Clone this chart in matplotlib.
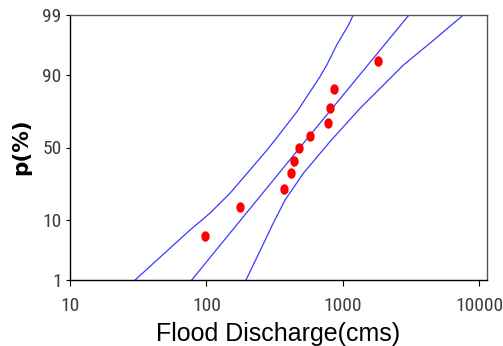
import numpy as np
import matplotlib
matplotlib.use("Agg")
import matplotlib.pyplot as plt
from matplotlib import font_manager
from matplotlib.path import Path
from matplotlib.ticker import FixedLocator, FixedFormatter, NullLocator
from statistics import NormalDist

# ---- data ----
obs_q = [98, 176, 369, 417, 436, 477, 572, 778, 805, 861, 1820]
obs_p = [6.1, 14.7, 23.3, 32.5, 40.8, 49.4, 58.0, 66.5, 75.7, 84.6, 93.5]

fit_q = [78, 485, 3055]
fit_p = [1, 50, 99]

low_q = [30, 76, 106, 149, 278, 318, 461, 680, 762, 902, 1097, 1193]
low_p = [1, 7.4, 12.4, 21.1, 48.2, 55.2, 73.5, 89.3, 92.6, 96.4, 98.4, 99]

up_q = [195, 256, 309, 377, 513, 805, 1337, 2778, 4610, 7640]
up_p = [1, 4.1, 9.2, 17.8, 32.5, 54.1, 75.4, 92.6, 97.0, 99]

x_ticks = [10, 100, 1000, 10000]
x_ticklabels = ["10", "100", "1000", "10000"]
y_ticks = [1, 10, 50, 90, 99]
y_ticklabels = ["1", "10", "50", "90", "99"]

_nd = NormalDist()
_vinv_cdf = np.vectorize(lambda v: _nd.inv_cdf(v / 100.0), otypes=[float])
_vcdf = np.vectorize(lambda v: _nd.cdf(v) * 100.0, otypes=[float])

def _fwd(p):
    p = np.clip(np.asarray(p, dtype=float), 1e-6, 100 - 1e-6)
    return _vinv_cdf(p)

def _inv(z):
    z = np.clip(np.asarray(z, dtype=float), -8, 8)
    return _vcdf(z)

# pick a narrow font for tick labels if one is installed
_names = {f.name for f in font_manager.fontManager.ttflist}
_narrow = None
for cand in ["Liberation Sans Narrow", "DejaVu Sans Condensed", "Roboto Condensed",
             "Open Sans Condensed"]:
    if cand in _names:
        _narrow = cand
        break
if _narrow is not None:
    tick_font, tick_size = [_narrow, "DejaVu Sans"], 14
else:
    tick_font, tick_size = ["Liberation Sans", "DejaVu Sans"], 12.5

fig = plt.figure(figsize=(5.03, 3.46), dpi=100)
ax = fig.add_axes([70 / 503, 1 - 280 / 346, (487 - 70) / 503, (280 - 15) / 346])

ax.set_xscale("log")
ax.set_yscale("function", functions=(_fwd, _inv))
ax.set_xlim(10, 11400)
ax.set_ylim(1, 99)

line_col = "#3a3aff"
ax.plot(low_q, low_p, color=line_col, lw=0.9)
ax.plot(fit_q, fit_p, color=line_col, lw=0.9)
ax.plot(up_q, up_p, color=line_col, lw=0.9)

# slightly elliptical dot marker
t = np.linspace(0, 2 * np.pi, 40)
ell = Path(np.column_stack([np.cos(t) * 0.8, np.sin(t)]))
ax.plot(obs_q, obs_p, linestyle="none", marker=ell, markersize=7.5,
        color="#ff0000", markeredgewidth=0)

ax.xaxis.set_major_locator(FixedLocator(x_ticks))
ax.xaxis.set_major_formatter(FixedFormatter(x_ticklabels))
ax.xaxis.set_minor_locator(NullLocator())
ax.yaxis.set_major_locator(FixedLocator(y_ticks))
ax.yaxis.set_major_formatter(FixedFormatter(y_ticklabels))
ax.yaxis.set_minor_locator(NullLocator())

for lab in ax.get_xticklabels() + ax.get_yticklabels():
    lab.set_family(tick_font)
    lab.set_fontsize(tick_size)
    lab.set_color("#3c3c3c")

ax.tick_params(axis="x", direction="out", length=4, width=0.8, pad=8)
ax.tick_params(axis="y", direction="out", length=3, width=0.8, pad=3)

for s in ["left", "bottom"]:
    ax.spines[s].set_color("black")
    ax.spines[s].set_linewidth(1.0)
for s in ["top", "right"]:
    ax.spines[s].set_color("#555555")
    ax.spines[s].set_linewidth(1.0)

ax.set_xlabel("Flood Discharge(cms)", family=["Liberation Sans", "DejaVu Sans"],
              fontsize=18, color="black", labelpad=5)
ax.set_ylabel("p(%)", family=["DejaVu Sans"], fontsize=15.5,
              fontweight="bold", color="black", va="center")
ax.yaxis.set_label_coords((21 - 70) / 417, (280 - 147) / 265)

fig.savefig("out.png", dpi=100, facecolor="white")
